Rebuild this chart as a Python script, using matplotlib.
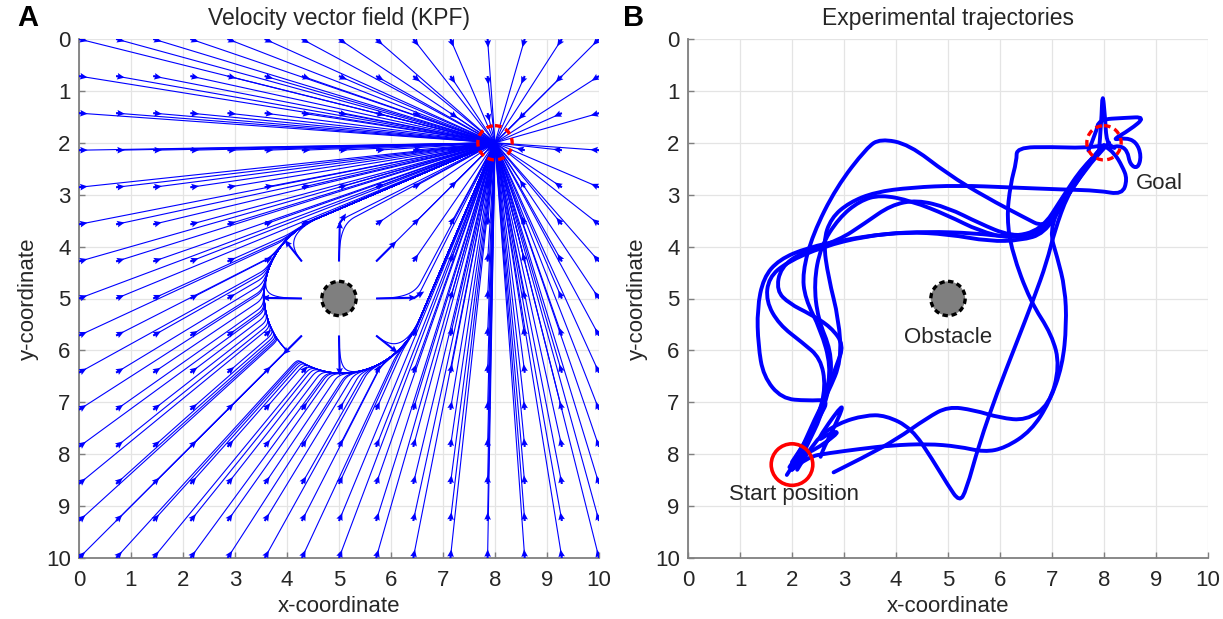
import numpy as np
import matplotlib
matplotlib.use("Agg")
import matplotlib.pyplot as plt
from matplotlib.patches import Circle, PathPatch
from matplotlib.path import Path
from matplotlib.collections import LineCollection

plt.rcParams['font.family'] = ['Liberation Sans', 'DejaVu Sans']

# ---- scene description -------------------------------------------------
goal = (8.0, 2.0)
goal_radius = 0.33
obstacle = (5.0, 5.0)
obstacle_radius = 0.33
start = (2.0, 8.2)
start_radius = 0.4
repulsion_gain = 25.0         # eta of the repulsive potential
influence_radius = 1.6        # rho_0: repulsion acts only inside this distance
seed_count = 15               # seeds per side of the streamline grid
ticks = list(range(0, 11))

# ---- recorded robot trajectories (x, y) -------------------------------
traj_arc = [(2.0, 8.3), (2.2, 7.9), (2.45, 7.4), (2.65, 6.9), (2.75, 6.3), (2.55, 5.6),
            (2.25, 5.0), (2.2, 4.5), (2.4, 3.76), (2.85, 2.86), (3.44, 2.09), (3.7, 1.92),
            (4.25, 2.03), (4.99, 2.6), (5.73, 3.05), (6.47, 3.44), (6.84, 3.63), (7.1, 3.3),
            (7.45, 2.8), (7.75, 2.35), (8.0, 2.05)]
traj_mid_a = [(2.1, 8.25), (2.3, 7.8), (2.55, 7.3), (2.75, 6.6), (2.75, 6.0), (2.5, 5.4),
              (2.42, 4.7), (2.55, 4.0), (2.9, 3.45), (3.3, 3.12), (3.7, 3.0), (4.3, 3.12),
              (5.0, 3.4), (5.6, 3.7), (6.2, 3.85), (6.75, 3.72), (7.2, 3.15), (7.6, 2.55),
              (7.95, 2.1)]
traj_mid_b = [(2.05, 8.2), (2.35, 7.6), (2.6, 7.0), (2.85, 6.3), (3.0, 5.9), (2.75, 5.55),
              (2.35, 5.3), (1.95, 5.1), (1.7, 4.85), (1.78, 4.4), (2.2, 4.1), (2.9, 3.88),
              (3.4, 3.55), (3.9, 3.2), (4.4, 3.1), (5.0, 3.25), (5.6, 3.55), (6.2, 3.8),
              (6.8, 3.75), (7.25, 3.1), (7.65, 2.5), (8.05, 2.05)]
traj_left_loop = [(2.0, 8.15), (2.3, 7.7), (2.55, 7.25), (2.7, 6.95), (2.3, 6.97), (1.8, 6.93),
                  (1.45, 6.5), (1.35, 5.9), (1.33, 5.2), (1.45, 4.6), (1.75, 4.25), (2.3, 4.02),
                  (3.0, 3.87), (3.8, 3.75), (4.6, 3.71), (5.5, 3.74), (6.2, 3.82), (6.8, 3.68),
                  (7.2, 3.05), (7.6, 2.45), (8.1, 2.0)]
traj_left_wide = [(1.95, 8.25), (2.25, 7.8), (2.5, 7.3), (2.65, 6.7), (2.55, 6.15), (2.2, 5.85),
                  (1.75, 5.5), (1.5, 5.05), (1.55, 4.6), (1.9, 4.3), (2.6, 4.0), (3.4, 3.8),
                  (4.2, 3.72), (5.0, 3.76), (5.8, 3.9), (6.4, 3.88), (6.85, 3.75), (7.2, 3.2),
                  (7.55, 2.6), (7.9, 2.15)]
traj_long = [(2.05, 8.2), (2.35, 7.5), (2.7, 6.8), (2.95, 6.2), (2.9, 5.4), (2.7, 4.6),
             (2.6, 3.9), (2.75, 3.45), (3.1, 3.15), (3.6, 2.95), (4.3, 2.86), (5.2, 2.82),
             (6.2, 2.86), (7.2, 2.9), (7.9, 2.92), (8.35, 3.0), (8.45, 2.7), (8.35, 2.45),
             (8.2, 2.2), (8.0, 2.05)]
traj_dip = [(2.1, 8.3), (2.45, 7.7), (2.9, 7.4), (3.4, 7.25), (3.8, 7.25), (4.3, 7.5),
            (4.7, 8.1), (5.0, 8.6), (5.22, 8.92), (5.35, 8.7), (5.6, 7.8), (5.95, 6.8),
            (6.3, 5.9), (6.65, 5.0), (6.9, 4.3), (7.05, 3.7), (7.3, 3.0), (7.65, 2.45),
            (8.0, 2.05)]
traj_cross = [(2.8, 8.35), (3.4, 8.05), (4.0, 7.72), (4.6, 7.3), (5.0, 7.08), (5.5, 7.15),
              (6.0, 7.3), (6.5, 7.35), (6.95, 7.05), (7.15, 6.3), (7.0, 5.7), (6.58, 5.05),
              (6.23, 4.1), (6.13, 3.45), (6.2, 2.8), (6.32, 2.35), (6.32, 2.09), (7.0, 2.08),
              (7.6, 2.1), (8.0, 2.05)]
traj_outer = [(2.0, 8.3), (2.3, 8.05), (2.7, 7.98), (3.3, 7.9), (3.9, 7.83), (4.6, 7.8),
              (5.2, 7.85), (5.7, 7.96), (6.1, 7.88), (6.6, 7.55), (6.95, 7.0), (7.2, 6.3),
              (7.28, 5.5), (7.25, 4.8), (7.1, 4.2), (6.95, 3.7), (7.2, 3.1), (7.55, 2.55),
              (7.9, 2.15)]
traj_start_zig = [(1.9, 8.4), (2.15, 8.0), (2.4, 7.95), (2.95, 7.55), (2.7, 7.6), (2.5, 7.75),
                  (2.6, 7.55), (3.0, 7.0), (2.9, 7.3), (2.6, 7.9), (2.55, 8.05)]
traj_goal_spike = [(7.9, 2.2), (7.95, 1.6), (7.97, 1.0), (8.02, 1.5), (8.05, 2.0), (8.2, 2.1)]
traj_goal_loop = [(7.7, 2.15), (7.85, 1.8), (7.9, 1.55), (8.4, 1.52), (8.8, 1.5), (8.5, 1.75),
                  (8.15, 1.95), (8.4, 1.9), (8.62, 1.98), (8.72, 2.25), (8.65, 2.5), (8.5, 2.42),
                  (8.45, 2.15), (8.3, 2.05), (8.1, 2.1)]

trajectories = [traj_arc, traj_mid_a, traj_mid_b, traj_left_loop, traj_left_wide,
                traj_long, traj_dip, traj_cross, traj_outer, traj_start_zig,
                traj_goal_spike, traj_goal_loop]


# ---- velocity field: unit attraction to the goal + Khatib-type repulsion
def velocity(p):
    d = np.asarray(goal) - p
    r = np.linalg.norm(d, axis=-1, keepdims=True)
    att = d / np.maximum(r, 1e-9)
    q = p - np.asarray(obstacle)
    rho = np.maximum(np.linalg.norm(q, axis=-1, keepdims=True), 1e-6)
    mag = repulsion_gain * (1.0 / rho - 1.0 / influence_radius) / rho ** 2
    mag = np.where(rho < influence_radius, mag, 0.0)
    return att + mag * q / rho


def unit(v):
    return v / np.maximum(np.linalg.norm(v, axis=1, keepdims=True), 1e-12)


def trace(seeds, h=0.01, steps=2600):
    p = seeds.copy()
    out = [p.copy()]
    done = np.zeros(len(p), bool)
    for _ in range(steps):
        u1 = unit(velocity(p))
        u2 = unit(velocity(p + 0.5 * h * u1))
        step = h * u2
        step[done] = 0.0
        p = p + step
        done |= np.hypot(p[:, 0] - goal[0], p[:, 1] - goal[1]) < h
        out.append(p.copy())
        if done.all():
            break
    return np.stack(out, axis=1)


g = np.linspace(0, 10, seed_count)
GX, GY = np.meshgrid(g, g)
seeds = np.column_stack([GX.ravel(), GY.ravel()])
keep = np.hypot(seeds[:, 0] - obstacle[0], seeds[:, 1] - obstacle[1]) > obstacle_radius
seeds = seeds[keep]
paths = trace(seeds)

# arrow lengths: linear up to unit speed, logarithmic above it
vel = velocity(seeds)
speed = np.linalg.norm(vel, axis=1, keepdims=True)
shown = np.where(speed <= 1.0, speed, 1.0 + np.log(np.maximum(speed, 1.0)))
vel_draw = vel / speed * shown


def smooth_path(points):
    """Quadratic-Bezier path through the midpoints, using the points as controls."""
    pts = np.asarray(points, float)
    verts = [pts[0]]
    codes = [Path.MOVETO]
    for i in range(1, len(pts) - 1):
        verts += [pts[i], (pts[i] + pts[i + 1]) / 2]
        codes += [Path.CURVE3, Path.CURVE3]
    verts.append(pts[-1])
    codes.append(Path.LINETO)
    return Path(verts, codes)


# ---- figure -------------------------------------------------------------
W, H = 1223, 619
fig = plt.figure(figsize=(W / 100, H / 100), dpi=100)
axA = fig.add_axes([79 / W, 61 / H, 520 / W, 519 / H])
axB = fig.add_axes([688 / W, 61 / H, 520 / W, 519 / H])

text_col = '#262626'
axis_col = '#7f7f7f'


def style(ax, title):
    ax.set_xlim(0, 10)
    ax.set_ylim(10, 0)
    ax.set_xticks(ticks)
    ax.set_yticks(ticks)
    ax.grid(True, color='#e4e4e4', lw=0.9)
    ax.set_axisbelow(True)
    for s in ('top', 'right'):
        ax.spines[s].set_visible(False)
    for s in ('left', 'bottom'):
        ax.spines[s].set_color(axis_col)
        ax.spines[s].set_linewidth(1.3)
    ax.tick_params(direction='in', length=4, width=1.0, color=axis_col,
                   labelsize=16, labelcolor=text_col, pad=6)
    ax.tick_params(axis='x', pad=9)
    ax.set_xlabel('x-coordinate', fontsize=16, color=text_col, labelpad=3)
    ax.set_ylabel('y-coordinate', fontsize=16, color=text_col, labelpad=5)
    ax.set_title(title, fontsize=16.5, color=text_col, pad=10)


style(axA, 'Velocity vector field (KPF)')
style(axB, 'Experimental trajectories')

# Panel A: streamlines and quiver arrows
axA.add_collection(LineCollection(list(paths), colors='#0000ff', linewidths=0.8, zorder=2))
axA.quiver(seeds[:, 0], seeds[:, 1], vel_draw[:, 0], vel_draw[:, 1],
           angles='xy', scale_units='xy', scale=6.0, color='#0000ff',
           width=0.004, headwidth=3.2, headlength=3.6, headaxislength=3.2, zorder=3)

for ax in (axA, axB):
    ax.add_patch(Circle(obstacle, obstacle_radius, facecolor='#7f7f7f', edgecolor='black',
                        lw=2.4, linestyle=(0, (1.6, 1.1)), zorder=5))
    ax.add_patch(Circle(goal, goal_radius, facecolor='none', edgecolor='#ff0000',
                        lw=2.4, linestyle=(0, (2.0, 1.3)), zorder=6))

# Panel B: trajectories
for tr in trajectories:
    axB.add_patch(PathPatch(smooth_path(tr), facecolor='none', edgecolor='#0000ff',
                            lw=2.8, joinstyle='round', capstyle='round', zorder=3))
axB.add_patch(Circle(start, start_radius, facecolor='none', edgecolor='#ff0000',
                     lw=2.6, zorder=6))
axB.text(8.62, 2.78, 'Goal', fontsize=16, color=text_col, ha='left', va='center')
axB.text(5.0, 5.75, 'Obstacle', fontsize=16, color=text_col, ha='center', va='center')
axB.text(2.03, 8.78, 'Start position', fontsize=16, color=text_col, ha='center', va='center')

fig.text(28 / W, 1 - 18 / H, 'A', fontsize=21, fontweight='bold', color='black',
         ha='center', va='center')
fig.text(634 / W, 1 - 18 / H, 'B', fontsize=21, fontweight='bold', color='black',
         ha='center', va='center')

fig.savefig('out.png', dpi=100)
